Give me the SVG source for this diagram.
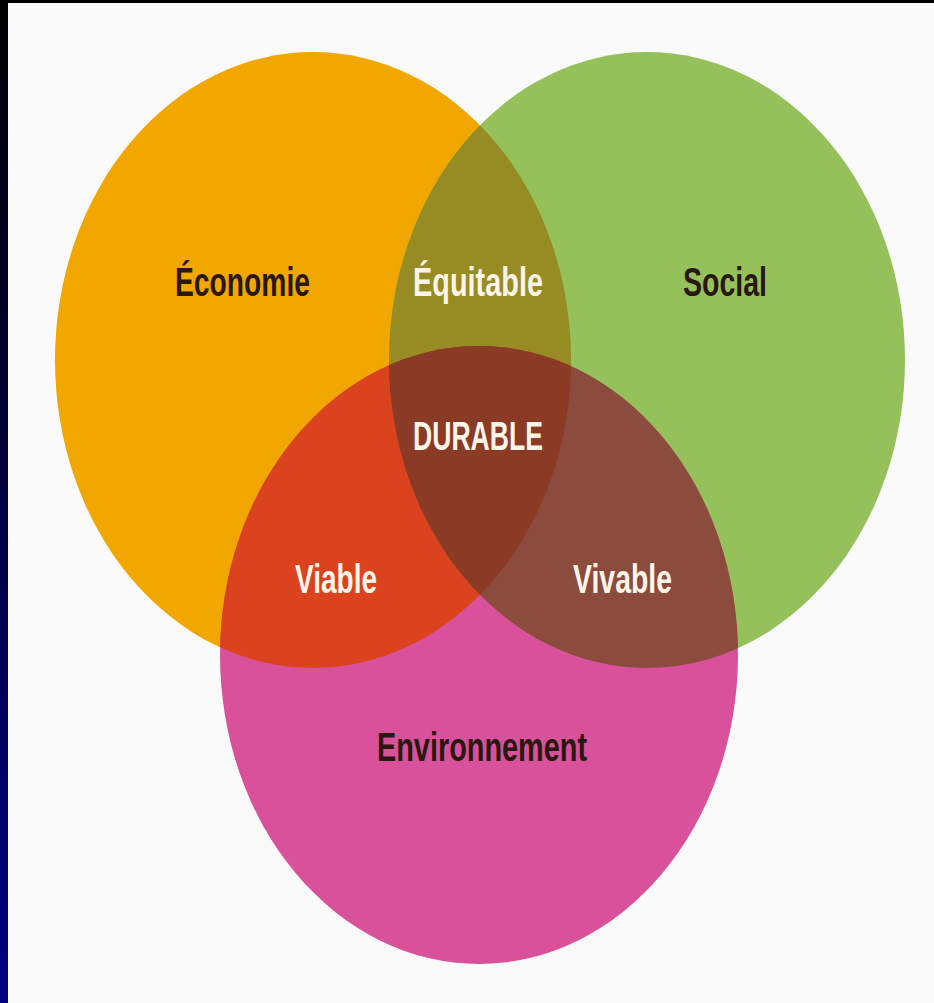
<svg xmlns="http://www.w3.org/2000/svg" width="934" height="1003" viewBox="0 0 934 1003">
  <style>
    .lbl { font-family: "Liberation Sans", Arial, sans-serif; font-weight: bold; font-size: 40px; text-anchor: start; }
    .dark { fill: #2a1710; }
    .light { fill: #fdf5e8; }
  </style>
  <defs>
    <linearGradient id="edge" x1="0" y1="0" x2="0" y2="1">
      <stop offset="0" stop-color="#000000"/>
      <stop offset="1" stop-color="#000082"/>
    </linearGradient>
    <ellipse id="eO" cx="313" cy="360" rx="258" ry="308"/>
    <ellipse id="eG" cx="647" cy="360" rx="258" ry="308"/>
    <ellipse id="eP" cx="479" cy="655" rx="259" ry="309"/>
    <clipPath id="cO"><use href="#eO"/></clipPath>
    <clipPath id="cG"><use href="#eG"/></clipPath>
  </defs>
  <rect x="0" y="0" width="934" height="1003" fill="#fafafa"/>
  <rect x="0" y="0" width="934" height="3" fill="#000"/>
  <rect x="0" y="0" width="8" height="1003" fill="url(#edge)"/>

  <g id="economie">
    <use href="#eO" fill="#f2a700"/>
  </g>
  <g id="social">
    <use href="#eG" fill="#94c15a"/>
  </g>
  <g id="environnement">
    <use href="#eP" fill="#d9519a"/>
  </g>
  <g id="equitable">
    <g clip-path="url(#cO)"><use href="#eG" fill="#978b24"/></g>
  </g>
  <g id="viable">
    <g clip-path="url(#cO)"><use href="#eP" fill="#db431f"/></g>
  </g>
  <g id="vivable">
    <g clip-path="url(#cG)"><use href="#eP" fill="#8b4b3d"/></g>
  </g>
  <g id="durable">
    <g clip-path="url(#cO)"><g clip-path="url(#cG)"><use href="#eP" fill="#8a3a25"/></g></g>
  </g>

  <g id="labels">
    <text class="lbl dark" x="175" y="296" textLength="135" lengthAdjust="spacingAndGlyphs">Économie</text>
    <text class="lbl light" x="413" y="296" textLength="130" lengthAdjust="spacingAndGlyphs">Équitable</text>
    <text class="lbl dark" x="683" y="296" textLength="84" lengthAdjust="spacingAndGlyphs">Social</text>
    <text class="lbl light" x="413" y="450" textLength="130" lengthAdjust="spacingAndGlyphs">DURABLE</text>
    <text class="lbl light" x="295" y="593" textLength="82" lengthAdjust="spacingAndGlyphs">Viable</text>
    <text class="lbl light" x="573" y="593" textLength="99" lengthAdjust="spacingAndGlyphs">Vivable</text>
    <text class="lbl dark" x="377" y="761" textLength="210" lengthAdjust="spacingAndGlyphs">Environnement</text>
  </g>
</svg>
